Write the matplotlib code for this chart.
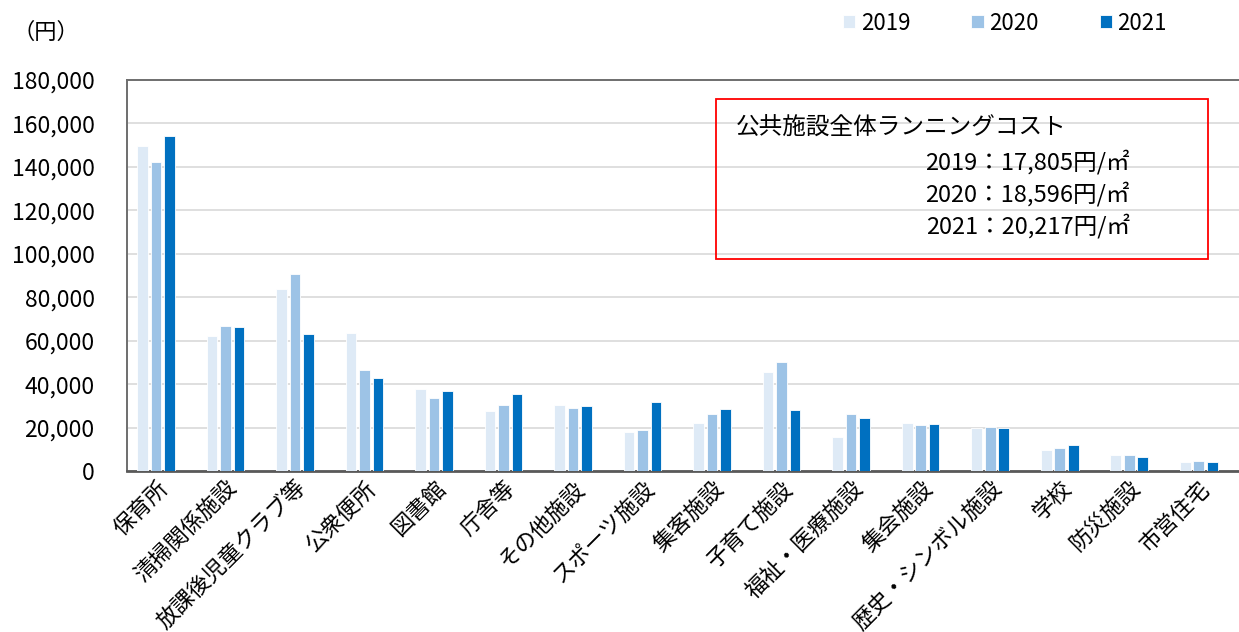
import matplotlib
matplotlib.use("Agg")
import matplotlib.pyplot as plt
from matplotlib.patches import Rectangle
import numpy as np

plt.rcParams['font.family'] = ['Noto Sans CJK JP', 'DejaVu Sans']

categories = ["保育所", "清掃関係施設", "放課後児童クラブ等", "公衆便所", "図書館", "庁舎等",
              "その他施設", "スポーツ施設", "集客施設", "子育て施設", "福祉・医療施設",
              "集会施設", "歴史・シンボル施設", "学校", "防災施設", "市営住宅"]
years = ["2019", "2020", "2021"]
v2019 = [149600, 62200, 83900, 63700, 37900, 27600, 30500, 18100, 22000, 45600, 15800,
         22100, 19900, 9800, 7200, 4300]
v2020 = [142400, 66900, 90700, 46600, 33800, 30200, 29000, 18700, 26100, 50200, 26200,
         21200, 20300, 10700, 7400, 4500]
v2021 = [154200, 66100, 62900, 43000, 36800, 35400, 30100, 31800, 28500, 27900, 24200,
         21500, 19600, 12000, 6400, 4300]
colors = ["#DEEAF6", "#9DC3E6", "#0070C0"]
yticks = list(range(0, 180001, 20000))

box_title = "公共施設全体ランニングコスト"
box_lines = ["2019：17,805円/㎡", "2020：18,596円/㎡", "2021：20,217円/㎡"]

W, H = 1239, 632
fig = plt.figure(figsize=(W / 100, H / 100), dpi=100)
left, right, top, bottom = 126.5, 1239, 80, 471
ax = fig.add_axes([left / W, 1 - bottom / H, (right - left) / W, (bottom - top) / H])

x = np.arange(len(categories))
bw = 0.154
step = 0.194
handles = []
for i, (vals, c) in enumerate(zip([v2019, v2020, v2021], colors)):
    b = ax.bar(x + (i - 1) * step, vals, width=bw, color=c, edgecolor="white",
               linewidth=0.6, zorder=3, label=years[i])
    handles.append(b)

ax.set_xlim(-0.425, 15.58)
ax.set_ylim(0, 180000)
ax.set_yticks(yticks)
ax.set_yticklabels([f"{v:,}" for v in yticks], fontsize=16.5)
ax.yaxis.grid(True, color="#D9D9D9", linewidth=1.2, zorder=0)
ax.set_axisbelow(True)
ax.tick_params(axis="y", length=0, pad=23)
ax.tick_params(axis="x", length=0, pad=4)
ax.set_xticks(x)
ax.set_xticklabels(categories, rotation=45, ha="right", va="top",
                   rotation_mode="anchor", fontsize=16)
for lab in ax.get_xticklabels():
    lab.set_rotation_mode("anchor")

for s in ["left", "top"]:
    ax.spines[s].set_color("#6e6e6e")
    ax.spines[s].set_linewidth(1.4)
ax.spines["bottom"].set_color("#595959")
ax.spines["bottom"].set_linewidth(2)
ax.spines["right"].set_visible(False)

fig.text(12 / W, 1 - 32 / H, "（円）", fontsize=16, ha="left", va="center")

fig.legend(handles=handles, labels=years, ncol=3, loc="center left",
           bbox_to_anchor=(843 / W, 1 - 23 / H), frameon=False,
           handlelength=0.55, handleheight=0.55, handletextpad=0.25,
           columnspacing=2.75, borderpad=0, borderaxespad=0, fontsize=16)

fig.patches.append(Rectangle((716 / W, 1 - 259 / H), (1208 - 716) / W, (259 - 99) / H,
                             transform=fig.transFigure, fill=False,
                             edgecolor="#FF0000", linewidth=1.3, zorder=10))
fig.text(736 / W, 1 - 128 / H, box_title, fontsize=17, ha="left", va="center")
for k, line in enumerate(box_lines):
    fig.text(1130 / W, 1 - (162 + 32 * k) / H, line, fontsize=17, ha="right", va="center")

fig.savefig("out.png", dpi=100)
